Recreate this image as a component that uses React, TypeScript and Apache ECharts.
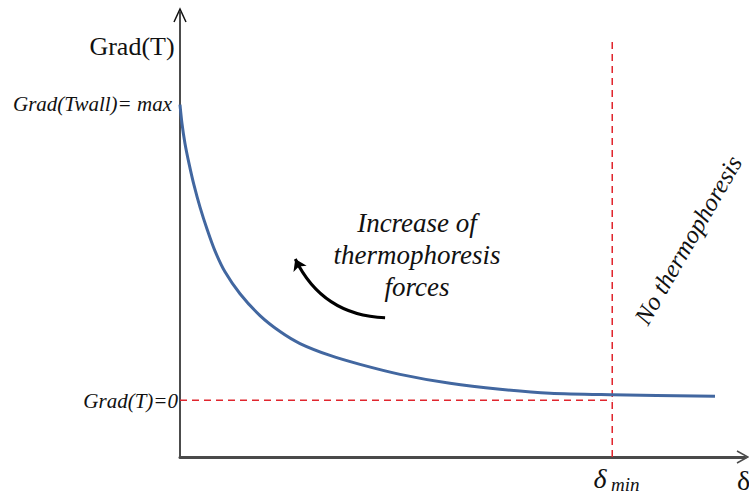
import React, { useEffect, useRef } from "react";
import * as echarts from "echarts";

// Curve of Grad(T) versus δ (abstract units: δ 0..100, Grad 0..100)
const deltaValues = [0, 0.35, 0.88, 1.59, 2.48, 3.54, 4.78, 6.19, 7.96, 10.62, 14.16, 17.7, 21.24, 26.55, 31.86, 38.94, 47.79, 56.64, 65.49, 76.46, 94.69];
const gradValues = [79.19, 74.94, 70.47, 65.99, 61.07, 56.15, 51.23, 46.31, 41.61, 36.69, 31.77, 28.19, 25.5, 22.82, 20.81, 18.57, 16.55, 15.21, 14.32, 13.98, 13.65];

// Reference lines
const deltaMin = 76.5;
const gradZero = 12.75;
const verticalTop = 93.3;

// Annotation arrow (from, to)
const arrowFrom = [36.3, 31.3];
const arrowTo = [20.4, 44.5];

// Texts
const yAxisTitle = "Grad(T)";
const maxLabel = "Grad(Twall)= max";
const zeroLabel = "Grad(T)=0";
const annotationLines = ["Increase of", "thermophoresis", "forces"];
const noThermoLabel = "No thermophoresis";
const deltaSymbol = "δ";
const minSub = "min";

const SERIF = "Liberation Serif";

function txt(x: number, y: number, text: string, size: number, italic: boolean, align: string, extra: any = {}) {
  return {
    type: "text",
    x,
    y,
    ...extra,
    style: {
      text,
      fontFamily: SERIF,
      fontSize: size,
      fontStyle: italic ? "italic" : "normal",
      fill: "#111",
      align,
      verticalAlign: "middle",
      ...(extra.style || {}),
    },
  };
}

export default function App() {
  const ref = useRef<HTMLDivElement>(null);
  useEffect(() => {
    if (!ref.current) return;
    const chart = echarts.init(ref.current, undefined, { renderer: "svg" });
    const curve = deltaValues.map((d, i) => [d, gradValues[i]]);
    chart.setOption({
      animation: false,
      backgroundColor: "#ffffff",
      grid: { left: 180, right: 4, top: 12, bottom: 40 },
      xAxis: {
        type: "value",
        min: 0,
        max: 100,
        axisLine: { show: true, onZero: false, lineStyle: { color: "#4a4a4a", width: 3 } },
        axisTick: { show: false },
        axisLabel: { show: false },
        splitLine: { show: false },
      },
      yAxis: {
        type: "value",
        min: 0,
        max: 100,
        axisLine: { show: true, onZero: false, lineStyle: { color: "#111111", width: 1.5 } },
        axisTick: { show: false },
        axisLabel: { show: false },
        splitLine: { show: false },
      },
      series: [
        {
          type: "line",
          data: curve,
          smooth: 0.3,
          showSymbol: false,
          lineStyle: { color: "#4267a0", width: 3, join: "round" },
          z: 5,
        },
        {
          type: "line",
          data: [[deltaMin, 0], [deltaMin, verticalTop]],
          showSymbol: false,
          lineStyle: { color: "#e0262e", width: 1.5, type: [7, 5] },
          z: 3,
        },
        {
          type: "line",
          data: [[0, gradZero], [deltaMin, gradZero]],
          showSymbol: false,
          lineStyle: { color: "#e0262e", width: 1.5, type: [7, 5] },
          z: 3,
        },
        {
          type: "lines",
          coordinateSystem: "cartesian2d",
          symbol: ["none", "arrow"],
          symbolSize: 11,
          data: [{ coords: [arrowFrom, arrowTo] }],
          lineStyle: { color: "#000000", width: 3, curveness: 0.3, opacity: 1 },
          z: 6,
        },
      ],
      graphic: [
        // axis arrow heads
        { type: "polyline", shape: { points: [[174, 22], [180, 9], [186, 22]] }, style: { stroke: "#111", lineWidth: 1.5, fill: null } },
        { type: "polyline", shape: { points: [[737, 451], [748, 457], [737, 463]] }, style: { stroke: "#4a4a4a", lineWidth: 1.5, fill: null } },
        txt(132, 46, yAxisTitle, 26, false, "center"),
        txt(172, 104, maxLabel, 21, true, "right"),
        txt(178, 401, zeroLabel, 21, true, "right"),
        txt(417, 223, annotationLines[0], 27, true, "center"),
        txt(417, 255, annotationLines[1], 27, true, "center"),
        txt(417, 287, annotationLines[2], 27, true, "center"),
        txt(688, 240, noThermoLabel, 25, true, "center", { rotation: (60 * Math.PI) / 180 }),
        txt(600, 478, deltaSymbol, 28, true, "center"),
        txt(611, 484, minSub, 19, true, "left"),
        txt(737, 480, deltaSymbol, 28, false, "left"),
      ],
    });
    return () => chart.dispose();
  }, []);
  return <div ref={ref} style={{ position: "fixed", left: 0, top: 0, width: 749, height: 497 }} />;
}
